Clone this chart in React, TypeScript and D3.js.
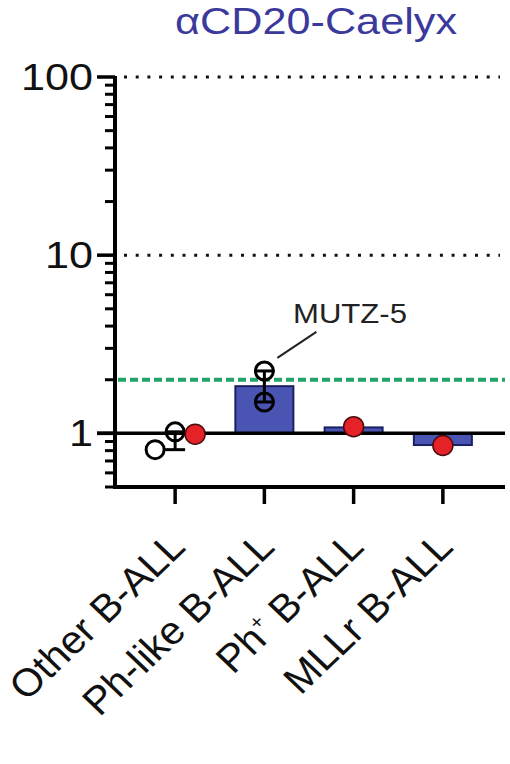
import React from 'react';
import * as d3 from 'd3';

// values
const categories = ['Other B-ALL', 'Ph-like B-ALL', 'Ph+ B-ALL', 'MLLr B-ALL'];
const barMeans = [0.92, 1.84, 1.08, 0.86];
const errLow = [0.81, 1.5, null, null];
const errHigh = [1.02, 2.24, null, null];

// open circles (other cell lines) and red circles
const openCat = [0, 0, 1, 1];
const openVal = [0.81, 1.02, 2.24, 1.5];
const openShift = [-20, 0, 0, 0];
const redCat = [0, 2, 3];
const redVal = [0.99, 1.09, 0.855];
const redShift = [20, 0, 0];

const majorTicks = [1, 10, 100];
const majorLabels = ['1', '10', '100'];
const minorTicks = [0.5, 0.6, 0.7, 0.8, 0.9, 2, 3, 4, 5, 6, 7, 8, 9, 20, 30, 40, 50, 60, 70, 80, 90];
const gridValues = [10, 100];
const threshold = 2;
const title = 'αCD20-Caelyx';
const annotation = 'MUTZ-5';
const annotatedIndex = 2; // the upper Ph-like circle

const W = 510;
const H = 764;
const FONT = '"Liberation Sans", Arial, Helvetica, sans-serif';
const BAR_FILL = '#4a54b3';
const BAR_STROKE = '#1b2060';
const GREEN = '#22a567';
const RED = '#e52228';
const SX = 1.2; // the source figure is a bit wider than tall
const LABEL_SX = 1.05;

export default function App() {
  const left = 115;
  const right = 505;
  const y = d3.scaleLog().domain([0.5, 100]).range([487, 77]);
  const x = d3.scaleBand<string>().domain(categories).range([130.5, 487.5]);
  const cx = (i: number) => (x(categories[i]) as number) + x.bandwidth() / 2;
  const barW = x.bandwidth() * 0.65;
  const base = y(0.5);
  const tickFs = 36;

  const label = (c: string) => {
    if (c === 'Ph+ B-ALL') {
      return (
        <>
          <tspan>Ph</tspan>
          <tspan dy={-15} fontSize={20}>+</tspan>
          <tspan dy={15}> B-ALL</tspan>
        </>
      );
    }
    return c;
  };

  const ann = { x: cx(openCat[annotatedIndex]), y: y(openVal[annotatedIndex]) };

  return (
    <svg width={W} height={H} style={{ position: 'absolute', left: 0, top: 0, background: '#fff' }}>
      <text x={175} y={34} fontFamily={FONT} fontSize={36} fill="#3b3a9c"
        textLength={282} lengthAdjust="spacingAndGlyphs">
        {title}
      </text>

      {/* dotted gridlines */}
      {gridValues.map(v => (
        <line key={v} x1={124} x2={500} y1={y(v)} y2={y(v)} stroke="#111" strokeWidth={3} strokeDasharray="3,8.7" />
      ))}

      {/* bars */}
      {barMeans.map((m, i) => {
        const y0 = y(1);
        const y1 = y(m);
        return (
          <rect key={i} x={cx(i) - barW / 2} y={Math.min(y0, y1)} width={barW} height={Math.abs(y1 - y0)}
            fill={i === 0 ? '#fff' : BAR_FILL} stroke={i === 0 ? 'none' : BAR_STROKE} strokeWidth={2} />
        );
      })}

      {/* threshold line */}
      <line x1={left + 3} x2={right} y1={y(threshold)} y2={y(threshold)} stroke={GREEN} strokeWidth={4} strokeDasharray="8,4" />

      {/* reference line at 1 */}
      <line x1={97} x2={right} y1={y(1)} y2={y(1)} stroke="#000" strokeWidth={3.5} />

      {/* axes */}
      <line x1={left} x2={left} y1={y(100) - 1} y2={base + 2} stroke="#000" strokeWidth={4} />
      <line x1={left - 2} x2={right} y1={base} y2={base} stroke="#000" strokeWidth={4} />
      {majorTicks.map((t, i) => (
        <g key={t}>
          <line x1={97} x2={left} y1={y(t)} y2={y(t)} stroke="#000" strokeWidth={3.5} />
          <text x={93} y={y(t) + 13} textAnchor="end" fontFamily={FONT} fontSize={tickFs} fill="#111"
            textLength={0.556 * tickFs * SX * majorLabels[i].length} lengthAdjust="spacingAndGlyphs">
            {majorLabels[i]}
          </text>
        </g>
      ))}
      {minorTicks.map(t => (
        <line key={t} x1={105} x2={left} y1={y(t)} y2={y(t)} stroke="#000" strokeWidth={3} />
      ))}
      {categories.map((c, i) => (
        <g key={c}>
          <line x1={cx(i)} x2={cx(i)} y1={base} y2={base + 17} stroke="#000" strokeWidth={3.5} />
          <text transform={`translate(${cx(i) + 12},${base + 62}) scale(${LABEL_SX},1) rotate(-45)`} textAnchor="end"
            fontFamily={FONT} fontSize={39} fill="#111">
            {label(c)}
          </text>
        </g>
      ))}

      {/* error bars */}
      {errLow.map((lo, i) => {
        const hi = errHigh[i];
        if (lo == null || hi == null) return null;
        return (
          <g key={i} stroke="#000" strokeWidth={3}>
            <line x1={cx(i)} x2={cx(i)} y1={y(lo)} y2={y(hi)} />
            <line x1={cx(i) - 10} x2={cx(i) + 10} y1={y(lo)} y2={y(lo)} />
            <line x1={cx(i) - 10} x2={cx(i) + 10} y1={y(hi)} y2={y(hi)} />
          </g>
        );
      })}

      {/* points */}
      {openVal.map((v, i) => (
        <circle key={i} cx={cx(openCat[i]) + openShift[i]} cy={y(v)} r={9} fill="none" stroke="#000" strokeWidth={3} />
      ))}
      {redVal.map((v, i) => (
        <circle key={i} cx={cx(redCat[i]) + redShift[i]} cy={y(v)} r={10} fill={RED} stroke="#4a0c0c" strokeWidth={1.5} />
      ))}

      {/* annotation */}
      <line x1={ann.x + 13} y1={ann.y - 13} x2={ann.x + 52} y2={ann.y - 39} stroke="#222" strokeWidth={2} />
      <text x={293} y={323} fontFamily={FONT} fontSize={28} fill="#222"
        textLength={114} lengthAdjust="spacingAndGlyphs">
        {annotation}
      </text>
    </svg>
  );
}
